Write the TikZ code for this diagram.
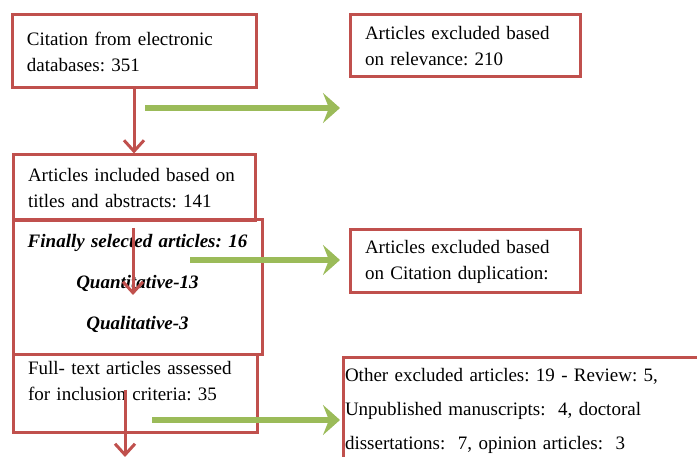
\documentclass[tikz,border=0pt]{standalone}
\usepackage{fontspec}
\setmainfont{Liberation Serif}
\usetikzlibrary{arrows.meta}
\definecolor{boxred}{RGB}{192,80,77}
\definecolor{arrowgreen}{RGB}{155,187,89}
\frenchspacing

\tikzset{
Box/.style={draw=boxred, line width=3pt, inner ysep=0pt, inner xsep=15pt,
        align=left, font=\fontsize{19}{26}\selectfont},
Final/.style={draw=boxred, line width=3pt, inner ysep=0pt, inner xsep=5pt,
        align=center, font=\fontsize{19}{26}\selectfont\bfseries\itshape},
FlowLine/.style={arrows={-Straight Barb[length=11pt,width=20pt]},draw=boxred,line width=3pt},
ExcludeLine/.style={arrows={-Stealth[length=17pt,width=30pt,inset=6pt]},draw=arrowgreen,line width=6pt},
}

\begin{document}
\begin{tikzpicture}[x=1pt,y=-1pt]
	\useasboundingbox (0,0) rectangle (697,457);

	\node[Box, text width=214pt, minimum height=73pt] (Cite) at (134,51.5)
		{Citation from electronic\\ databases: 351};
	\node[Box, text width=200pt, minimum height=62pt] (Relev) at (465,46)
		{Articles excluded based\\ on relevance: 210};
	\node[Box, text width=212pt, minimum height=66pt] (Incl) at (134,188)
		{Articles included based on\\ titles and abstracts: 141};
	\node[Final, text width=239pt, minimum height=135pt] (Final) at (137.5,287.5)
		{Finally selected articles: 16\\[15pt] Quantitative-13\\[15pt] Qualitative-3\\[-14pt]\mbox{}};
	\node[Box, text width=214pt, minimum height=77pt] (Full) at (135,393.5)
		{Full- text articles assessed\\ for inclusion criteria: 35\\ \mbox{}};
	\node[Box, text width=200pt, minimum height=63pt] (Dupl) at (465,261.5)
		{Articles excluded based\\ on Citation duplication:};
	\node[Box, inner xsep=2pt, text width=376pt, minimum height=106pt,
		font=\fontsize{19}{34}\selectfont] (Other) at (533,411)
		{Other excluded articles: 19 - Review: 5,\\ Unpublished manuscripts:~ 4, doctoral\\
		 dissertations:~ 7, opinion articles:~ 3};

	\coordinate (FinalIn) at (133,228);
	\coordinate (FinalOut) at (133,295);
	\coordinate (FullIn) at (125,390);
	\coordinate (FullOut) at (125,457);
	\draw[FlowLine] (Cite) -- (Incl);
	\draw[FlowLine] (FinalIn) -- (FinalOut);
	\draw[FlowLine] (FullIn) -- (FullOut);

	\foreach \name/\xs/\y in {Relev/145/108, Dupl/190/260, Other/152/420}{
		\coordinate (\name From) at (\xs,\y);
		\coordinate (\name To) at (340,\y);
		\draw[ExcludeLine] (\name From) -- (\name To);
	}
\end{tikzpicture}
\end{document}
